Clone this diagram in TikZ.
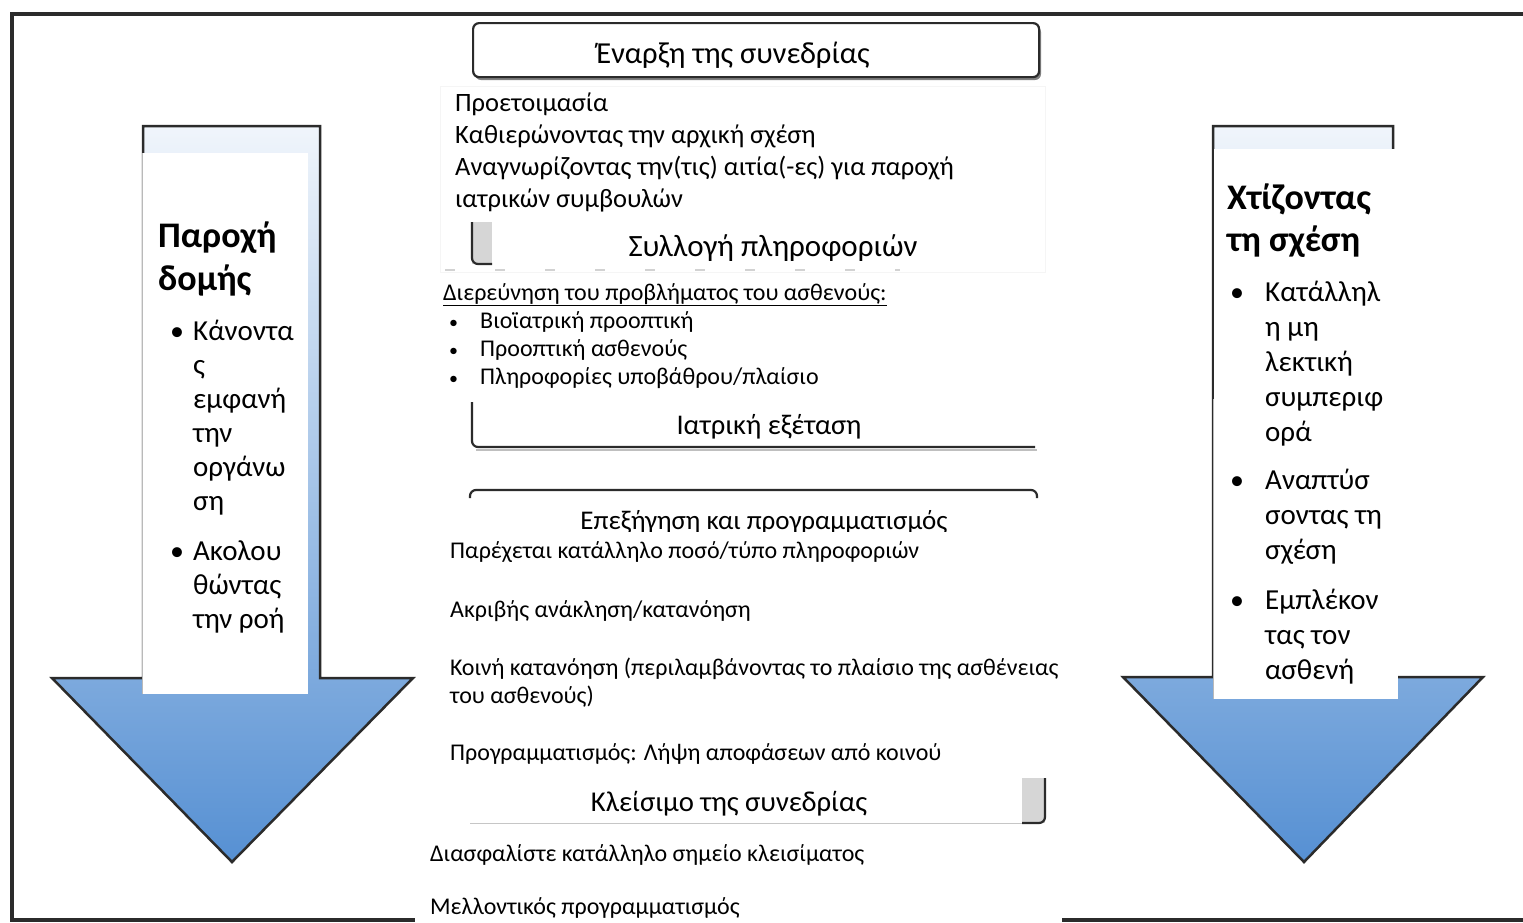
\documentclass[tikz,border=0pt]{standalone}
\usepackage{fontspec}
\setmainfont{Carlito}
\definecolor{frame}{HTML}{2B2B2B}
\definecolor{arrowtop}{HTML}{F0F5FB}
\definecolor{arrowbot}{HTML}{5690D3}
\definecolor{boxgray}{HTML}{D6D6D6}
\newcommand{\fs}[1]{\fontsize{#1}{#1}\selectfont}
\begin{document}
\begin{tikzpicture}[x=1pt,y=-1pt,
  frameline/.style={draw=frame,line width=4pt},
  arrowshape/.style={draw=frame,line width=2.5pt,line join=miter,top color=arrowtop,bottom color=arrowbot},
  whitebox/.style={fill=white,draw=none,inner sep=0pt,anchor=north west},
  boxline/.style={draw=frame,line width=2.2pt,rounded corners=6pt},
  head/.style={anchor=base west,inner sep=0pt,font=\fontsize{36}{42}\selectfont\bfseries},
  item/.style={anchor=base west,inner sep=0pt,font=\fontsize{29}{34}\selectfont},
  bul/.style={anchor=base west,inner sep=0pt,font=\fontsize{28}{34}\selectfont},
  title/.style={anchor=base,inner sep=0pt},
  toptxt/.style={anchor=base west,inner sep=0pt,font=\fontsize{26.5}{32}\selectfont},
  midtxt/.style={anchor=base west,inner sep=0pt,font=\fontsize{24}{28}\selectfont},
  smallbul/.style={anchor=base west,inner sep=0pt,font=\fontsize{18}{20}\selectfont}
]
\useasboundingbox (0,0) rectangle (1523,922);
\fill[white] (0,0) rectangle (1523,922);

% outer frame
\draw[frameline] (1530,14) -- (12,14) -- (12,920) -- (415,920);
\draw[frameline] (1062,920) -- (1530,920);

% left arrow
\path[arrowshape] (143,126) -- (320,126) -- (320,678) -- (413,678) -- (232,862) -- (52,678) -- (143,678) -- cycle;
\node[whitebox,minimum width=166pt,minimum height=541pt] (lbox) at (142,153) {};
\draw[gray!55,line width=1pt] (lbox.north west) -- (lbox.south west);

% right arrow
\path[arrowshape] (1213,126) -- (1393,126) -- (1393,677) -- (1483,677) -- (1304,862) -- (1123,677) -- (1213,677) -- cycle;
\node[whitebox,minimum width=185pt,minimum height=550pt] (rbox) at (1213,149) {};
\draw[frame,line width=1.5pt] (rbox.north west) -- ([yshift=-250pt]rbox.north west);
\draw[gray!55,line width=1pt] ([yshift=-250pt]rbox.north west) -- (rbox.south west);

% left texts
\node[head] (lh1) at (158,247) {Παροχή};
\node[head] (lh2) at (158,290) {δομής};
\node[bul] (lb1) at (170,340) {•};
\node[item] (l1) at (193,340) {Κάνοντα};
\node[item] (l2) at (193,374) {ς};
\node[item] (l3) at (193,408) {εμφανή};
\node[item] (l4) at (193,442) {την};
\node[item] (l5) at (193,476) {οργάνω};
\node[item] (l6) at (193,510) {ση};
\node[bul] (lb2) at (170,560) {•};
\node[item] (l7) at (193,560) {Ακολου};
\node[item] (l8) at (193,594) {θώντας};
\node[item] (l9) at (193,628) {την ροή};

% right texts
\node[head] (rh1) at (1227,209) {Χτίζοντας};
\node[head] (rh2) at (1227,251) {τη σχέση};
\node[bul] (rb1) at (1230,301) {•};
\node[item] (r1) at (1265,301) {Κατάλληλ};
\node[item] (r2) at (1265,336) {η μη};
\node[item] (r3) at (1265,371) {λεκτική};
\node[item] (r4) at (1265,406) {συμπεριφ};
\node[item] (r5) at (1265,441) {ορά};
\node[bul] (rb2) at (1230,489) {•};
\node[item] (r6) at (1265,489) {Αναπτύσ};
\node[item] (r7) at (1265,524) {σοντας τη};
\node[item] (r8) at (1265,559) {σχέση};
\node[bul] (rb3) at (1230,609) {•};
\node[item] (r9) at (1265,609) {Εμπλέκον};
\node[item] (r10) at (1265,644) {τας τον};
\node[item] (r11) at (1265,679) {ασθενή};

% centre: opening
\fill[frame!60] (475,26) [rounded corners=6pt] rectangle (1041,80);
\node[boxline,fill=white,minimum width=566pt,minimum height=54pt,inner sep=0pt,anchor=north west] (startbox) at (472,22) {};
\node[title,font=\fs{30.5}] (start) at (733,63) {Έναρξη της συνεδρίας};
\draw[gray!8,line width=1pt] (440,86) rectangle (1045,272);
\node[toptxt] (t1) at (455,111) {Προετοιμασία};
\node[toptxt] (t2) at (455,143) {Καθιερώνοντας την αρχική σχέση};
\node[toptxt] (t3) at (455,175) {Αναγνωρίζοντας την(τις) αιτία(-ες) για παροχή};
\node[toptxt] (t4) at (455,207) {ιατρικών συμβουλών};

% gathering information
\fill[boxgray] (472,222) rectangle (492,264);
\draw[boxline] (472,222) -- (472,264) -- (492,264);
\node[title,font=\fs{31}] (gather) at (773,256) {Συλλογή πληροφοριών};
\draw[gray!35,line width=1.5pt,dash pattern=on 10pt off 40pt] (445,270) -- (900,270);
\node[midtxt] (g0) at (443,300) {\underline{Διερεύνηση του προβλήματος του ασθενούς:}};
\node[smallbul] (gb1) at (449,328) {•};
\node[midtxt] (g1) at (480,328) {Βιοϊατρική προοπτική};
\node[smallbul] (gb2) at (449,356) {•};
\node[midtxt] (g2) at (480,356) {Προοπτική ασθενούς};
\node[smallbul] (gb3) at (449,384) {•};
\node[midtxt] (g3) at (480,384) {Πληροφορίες υποβάθρου/πλαίσιο};

% physical examination
\draw[gray!50,line width=2pt] (476,450) -- (1037,450);
\draw[boxline] (472,402) -- (472,447) -- (1035,447);
\node[title,font=\fs{28.5}] (exam) at (769,434) {Ιατρική εξέταση};

% explanation and planning
\draw[boxline] (470,498) -- (470,490) -- (1037,490) -- (1037,498);
\begin{scope}
\clip (440,495) rectangle (1060,531);
\node[title,font=\fs{27}] (explain) at (764,529) {Επεξήγηση και προγραμματισμός};
\end{scope}
\node[midtxt] (e1) at (450,558) {Παρέχεται κατάλληλο ποσό/τύπο πληροφοριών};
\node[midtxt] (e2) at (450,617) {Ακριβής ανάκληση/κατανόηση};
\node[midtxt] (e3) at (450,675) {Κοινή κατανόηση (περιλαμβάνοντας το πλαίσιο της ασθένειας};
\node[midtxt] (e4) at (450,703) {του ασθενούς)};
\node[midtxt] (e5) at (450,760) {Προγραμματισμός: Λήψη αποφάσεων από κοινού};

% closing
\fill[boxgray] (1022,778) rectangle (1045,823);
\draw[gray!45,line width=1pt] (470,823) -- (1022,823);
\draw[boxline] (1045,778) -- (1045,823) -- (1022,823);
\node[title,font=\fs{28.7}] (close) at (729,811) {Κλείσιμο της συνεδρίας};
\node[midtxt] (c1) at (430,861) {Διασφαλίστε κατάλληλο σημείο κλεισίματος};
\node[midtxt] (c2) at (430,914) {Μελλοντικός προγραμματισμός};
\end{tikzpicture}
\end{document}
